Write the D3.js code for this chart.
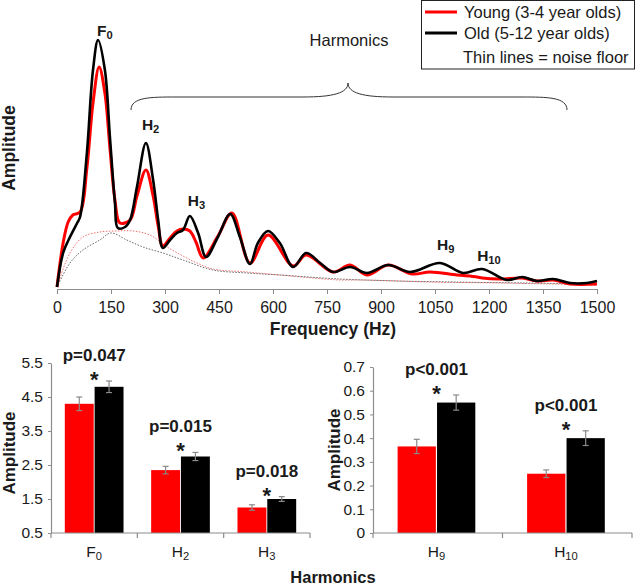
<!DOCTYPE html>
<html><head><meta charset="utf-8">
<script src="https://cdn.jsdelivr.net/npm/d3@7"></script>
<style>
html,body{margin:0;padding:0;background:#fff;}
svg{display:block;font-family:"Liberation Sans",Arial,sans-serif;}
</style></head>
<body><svg id="c" width="640" height="585"></svg>
<script>
// ---------- DATA ----------
const freqTicks = [0,150,300,450,600,750,900,1050,1200,1350,1500];
// Old (5-12 yrs) spectrum
const oldFreq = [0,17,36,56,64,83,100,114,133,147,161,169,189,203,222,247,267,281,294,314,333,350,369,392,414,447,481,508,536,558,586,619,656,692,731,767,814,861,920,981,1064,1128,1181,1250,1292,1333,1378,1425,1472,1500];
const oldAmp  = [1,35,51,65,71,135,218,248,218,151,85,60,61,68,101,145,108,68,40,48,55,58,72,55,31,51,74,51,24,45,57,45,21,35,25,16,21,15,23,16,25,15,19,8,11,7,9,5,5,7];
// Young (3-4 yrs) spectrum
const youngFreq = [0,17,31,44,64,83,100,117,133,147,161,175,203,222,247,267,281,294,314,333,350,369,386,406,447,486,536,586,656,692,767,814,861,920,986,1036,1111,1167,1181,1231,1292,1333,1378,1425,1500];
const youngAmp  = [1,45,66,73,76,120,185,221,195,140,88,65,68,92,118,92,62,42,50,57,59,57,46,30,52,75,25,53,22,33,16,23,13,23,14,16,13,11,10,9,10,7,8,4,4];
// Noise floors
const youngNoiseFreq = [0,36,72,119,167,211,258,306,350,389,433,528,619,711,786,850,1036,1231,1500];
const youngNoiseAmp  = [1,35,51,56,57,57,53,41,32,25,19,16,13,10,8,8,6,5,3];
const oldNoiseFreq = [0,36,72,119,150,194,239,294,350,433,528,619,786,950,1100,1300,1500];
const oldNoiseAmp  = [1,25,38,48,55,48,41,35,28,18,15,13,9,7,6,5,4];
// Peak labels
const peakMain = ["F","H","H","H","H"];
const peakSub  = ["0","2","3","9","10"];
const peakFreq = [114,247,369,1064,1181];
const peakAmp  = [248,145,72,25,19];

// Bar charts
const lowMain = ["F","H","H"], lowSub = ["0","2","3"];
const lowYoung = [4.3,2.35,1.25], lowOld = [4.8,2.75,1.5];
const lowYoungErr = [0.2,0.11,0.08], lowOldErr = [0.17,0.12,0.07];
const lowP = ["p=0.047","p=0.015","p=0.018"];
const lowTicks = [0.5,1.5,2.5,3.5,4.5,5.5];

const highMain = ["H","H"], highSub = ["9","10"];
const highYoung = [0.365,0.25], highOld = [0.55,0.40];
const highYoungErr = [0.03,0.016], highOldErr = [0.032,0.031];
const highP = ["p<0.001","p<0.001"];
const highTicks = [0,0.1,0.2,0.3,0.4,0.5,0.6,0.7];

const RED = "#ff0000", BLACK = "#000000", AXIS = "#8c8c8c", TXT = "#1a1a1a";

// ---------- DRAW ----------
const svg = d3.select("#c");

function subText(g, x, y, main, sub, size, weight, anchor){
  const t = g.append("text").attr("x", x).attr("y", y)
    .attr("font-size", size).attr("font-weight", weight)
    .attr("text-anchor", anchor || "middle").attr("fill", TXT);
  t.append("tspan").text(main);
  t.append("tspan").attr("font-size", size*0.72).attr("dy", size*0.22).text(sub);
  return t;
}

// ===== Top spectrum =====
const x = d3.scaleLinear().domain([0,1500]).range([57,597]);
const y = d3.scaleLinear().domain([0,250]).range([288,38]);

const topG = svg.append("g");
const xAxis = topG.append("g").attr("transform","translate(0,289)")
  .call(d3.axisBottom(x).tickValues(freqTicks).tickFormat(d3.format("d")).tickSize(5).tickSizeOuter(0).tickPadding(8));
xAxis.select(".domain").attr("stroke", AXIS).attr("stroke-width",1.2);
xAxis.selectAll(".tick line").attr("stroke", AXIS);
xAxis.selectAll(".tick text").attr("font-size",16).attr("fill",TXT)
  .attr("font-family","Liberation Sans, Arial, sans-serif");

const line = d3.line().x(d=>x(d[0])).y(d=>y(d[1])).curve(d3.curveCatmullRom.alpha(0.5));
const zipS = (f,a)=>f.map((v,i)=>[v,a[i]]);

topG.append("path").datum(zipS(youngNoiseFreq,youngNoiseAmp)).attr("d",line)
  .attr("fill","none").attr("stroke","#f07070").attr("stroke-width",1).attr("stroke-dasharray","1.5,1.5");
topG.append("path").datum(zipS(oldNoiseFreq,oldNoiseAmp)).attr("d",line)
  .attr("fill","none").attr("stroke","#666").attr("stroke-width",1).attr("stroke-dasharray","1.5,1.5");
topG.append("path").datum(zipS(youngFreq,youngAmp)).attr("d",line)
  .attr("fill","none").attr("stroke",RED).attr("stroke-width",3).attr("stroke-linejoin","round");
topG.append("path").datum(zipS(oldFreq,oldAmp)).attr("d",line)
  .attr("fill","none").attr("stroke",BLACK).attr("stroke-width",2.6).attr("stroke-linejoin","round");

// peak labels (left-aligned near each peak)
const peakDx = [-1,-4,-2,-3,-5];
const peakDy = [-4,-13,-10,-13,-8];
peakMain.forEach((m,i)=>{
  subText(topG, x(peakFreq[i])+peakDx[i], y(peakAmp[i])+peakDy[i], m, peakSub[i], 15.5, "bold", "start");
});

// brace
const bx0 = 131, bx1 = 567, bxm = 348, byEnd = 110, byMid = 97, byTip = 83;
topG.append("path").attr("fill","none").attr("stroke","#333").attr("stroke-width",1)
  .attr("d",`M${bx0},${byEnd} C${bx0},${byMid} ${bx0+20},${byMid} ${bx0+45},${byMid} L${bxm-45},${byMid} C${bxm-15},${byMid} ${bxm},${byMid-4} ${bxm},${byTip} C${bxm},${byMid-4} ${bxm+15},${byMid} ${bxm+45},${byMid} L${bx1-45},${byMid} C${bx1-20},${byMid} ${bx1},${byMid} ${bx1},${byEnd}`);
topG.append("text").attr("x",349).attr("y",46).attr("text-anchor","middle")
  .attr("font-size",16.5).attr("fill",TXT).text("Harmonics");

// axis titles
topG.append("text").attr("transform","translate(15,148) rotate(-90)").attr("text-anchor","middle")
  .attr("font-size",17.5).attr("font-weight","bold").attr("fill",TXT).text("Amplitude");
topG.append("text").attr("x",333).attr("y",335).attr("text-anchor","middle")
  .attr("font-size",17.5).attr("font-weight","bold").attr("fill",TXT).text("Frequency (Hz)");

// legend
const lg = svg.append("g");
lg.append("rect").attr("x",421.5).attr("y",0.5).attr("width",213).attr("height",68.5)
  .attr("fill","#fff").attr("stroke","#222").attr("stroke-width",1);
lg.append("line").attr("x1",425).attr("x2",457).attr("y1",12).attr("y2",12).attr("stroke",RED).attr("stroke-width",3);
lg.append("line").attr("x1",425).attr("x2",457).attr("y1",33).attr("y2",33).attr("stroke",BLACK).attr("stroke-width",3);
lg.append("text").attr("x",464).attr("y",18).attr("font-size",16.5).attr("fill",TXT).text("Young (3-4 year olds)");
lg.append("text").attr("x",464).attr("y",39).attr("font-size",16.5).attr("fill",TXT).text("Old (5-12 year olds)");
lg.append("text").attr("x",463).attr("y",63).attr("font-size",16.5).attr("fill",TXT).text("Thin lines = noise floor");

// ===== Bar charts =====
function barChart(opt){
  const g = svg.append("g");
  const cats = opt.main.map((m,i)=>i);
  const yS = d3.scaleLinear().domain(opt.domain).range([opt.y0, opt.y1]);
  const x0 = d3.scaleBand().domain(cats).range([opt.x0, opt.x1]).padding(0);
  const bw = x0.bandwidth();
  const x1 = d3.scaleBand().domain(["young","old"]).range([bw*opt.gl, bw*opt.gr]).paddingInner(0.03);

  const ya = g.append("g").attr("transform",`translate(${opt.x0},0)`)
    .call(d3.axisLeft(yS).tickValues(opt.ticks).tickSize(3).tickSizeOuter(0).tickPadding(5).tickFormat(opt.fmt));
  ya.select(".domain").attr("stroke",AXIS).attr("stroke-width",1.2);
  ya.selectAll(".tick line").attr("stroke",AXIS);
  ya.selectAll(".tick text").attr("font-size",15.5).attr("fill",TXT).attr("font-family","Liberation Sans, Arial, sans-serif");

  const base = opt.domain[0];
  const groups = g.selectAll(".grp").data(cats).join("g").attr("transform",d=>`translate(${x0(d)},0)`);
  const series = [["young",opt.young,opt.youngErr,RED],["old",opt.old,opt.oldErr,BLACK]];
  series.forEach(([k,vals,errs,fill])=>{
    groups.append("rect").attr("x",x1(k)).attr("width",x1.bandwidth())
      .attr("y",d=>yS(vals[d])).attr("height",d=>yS(base)-yS(vals[d]))
      .attr("fill",fill);
    const cx = x1(k)+x1.bandwidth()/2;
    groups.append("line").attr("x1",cx).attr("x2",cx)
      .attr("y1",d=>yS(vals[d]-errs[d])).attr("y2",d=>yS(vals[d]+errs[d]))
      .attr("stroke","#8a8a8a").attr("stroke-width",1.2);
    [1,-1].forEach(s=>{
      groups.append("line").attr("x1",cx-3).attr("x2",cx+3)
        .attr("y1",d=>yS(vals[d]+s*errs[d])).attr("y2",d=>yS(vals[d]+s*errs[d]))
        .attr("stroke","#8a8a8a").attr("stroke-width",1.2);
    });
  });
  g.append("line").attr("x1",opt.x0).attr("x2",opt.x1).attr("y1",opt.y0).attr("y2",opt.y0)
    .attr("stroke",AXIS).attr("stroke-width",1.2);
  cats.concat([null]).forEach(d=>{
    const xx = d===null ? opt.x1 : x0(d);
    g.append("line").attr("x1",xx).attr("x2",xx).attr("y1",opt.y0).attr("y2",opt.y0+5)
      .attr("stroke",AXIS).attr("stroke-width",1.2);
  });
  cats.forEach(d=>{
    const gc = x0(d)+(x1("young")+x1("old")+x1.bandwidth())/2;
    subText(g, gc, 557, opt.main[d], opt.sub[d], 15.5, "normal");
    const topY = yS(opt.old[d]+opt.oldErr[d]);
    g.append("text").attr("x",gc).attr("y",topY-20).attr("text-anchor","middle")
      .attr("font-size",17).attr("font-weight","bold").attr("fill",TXT).text(opt.p[d]);
    g.append("text").attr("x",gc).attr("y",topY+6).attr("text-anchor","middle")
      .attr("font-size",22).attr("font-weight","bold").attr("fill",TXT).text("*");
  });
  g.append("text").attr("transform",`translate(${opt.ylabX},${opt.ylabY}) rotate(-90)`).attr("text-anchor","middle")
    .attr("font-size",17).attr("font-weight","bold").attr("fill",TXT).text("Amplitude");
}

barChart({main:lowMain, sub:lowSub, young:lowYoung, old:lowOld, youngErr:lowYoungErr, oldErr:lowOldErr,
  p:lowP, ticks:lowTicks, domain:[0.5,5.5], y0:533, y1:363, x0:51, x1:310, gl:0.16, gr:0.84,
  fmt:d3.format(".1f"), ylabX:15, ylabY:453});
barChart({main:highMain, sub:highSub, young:highYoung, old:highOld, youngErr:highYoungErr, oldErr:highOldErr,
  p:highP, ticks:highTicks, domain:[0,0.7], y0:533, y1:367, x0:373, x1:632, gl:0.19, gr:0.79,
  fmt:d=>d===0?"0":d3.format(".1f")(d), ylabX:340, ylabY:450});

svg.append("text").attr("x",333).attr("y",583).attr("text-anchor","middle")
  .attr("font-size",16.5).attr("font-weight","bold").attr("fill",TXT).text("Harmonics");
</script>
</body></html>
